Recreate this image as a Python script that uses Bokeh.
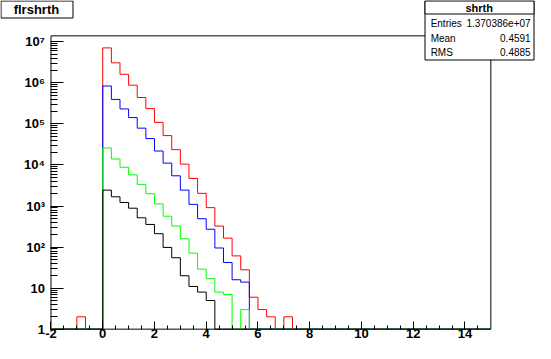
import math
import numpy as np
from bokeh.plotting import figure
from bokeh.models import Label, BoxAnnotation, FixedTicker, Range1d
from bokeh.embed import file_html
from bokeh.resources import INLINE

# ---------------- data ----------------
hist_title = "flrshrth"
stats_title = "shrth"
stats_names = ["Entries", "Mean", "RMS"]
stats_values = ["1.370386e+07", "0.4591", "0.4885"]

bin_low = -2.0
bin_high = 15.0
n_bins = 51

red_counts = ([0, 0, 0, 2, 0, 0]
              + [7130000, 3080000, 1620000, 880000, 440000, 236000, 109000, 52000,
                 23600, 10500, 4700, 2040, 914, 325, 165, 61, 28, 6, 3, 2, 0, 2]
              + [0] * 23)
blue_counts = ([0] * 6
               + [840000, 396000, 232000, 143000, 79000, 44000, 21900, 11100,
                  5450, 2440, 1100, 490, 272, 95, 42, 16, 14]
               + [0] * 28)
green_counts = ([0] * 6
                + [26000, 14000, 8800, 5750, 3370, 2000, 1130, 565,
                   325, 159, 71, 29, 17, 8, 7, 0, 3]
                + [0] * 28)
black_counts = ([0] * 6
                + [2440, 1680, 1220, 885, 517, 356, 212, 98, 55, 20, 11, 8, 5]
                + [0] * 32)

series_colors = ["#ff0000", "#0000ff", "#00ff00", "#000000"]

x_ticks = [-2, 0, 2, 4, 6, 8, 10, 12, 14]
x_tick_labels = ["-2", "0", "2", "4", "6", "8", "10", "12", "14"]
y_ticks = [1, 10, 100, 1000, 10000, 100000, 1000000, 10000000]
y_tick_labels = ["1", "10", "10\u00b2", "10\u00b3", "10\u2074", "10\u2075", "10\u2076", "10\u2077"]
y_bottom = 1
y_top = 1.4e7

# ---------------- layout ----------------
W, H = 535, 343
KX, KY = W / 551.0, H / 359.0      # fit the 551x359 design into the canvas
FONT = "Liberation Sans"


def fx(v):
    return v * KX


def fy(v):
    return v * KY


FR_L, FR_R, FR_T, FR_B = fx(52), fx(505), fy(37), fy(344)

# the whole canvas is the plotting frame; the histogram frame sits inside it
ux = (FR_R - FR_L) / (bin_high - bin_low)
x_start = bin_low - FR_L / ux
x_end = bin_high + (W - FR_R) / ux
ly0, ly1 = math.log10(y_bottom), math.log10(y_top)
uy = (FR_B - FR_T) / (ly1 - ly0)
y_start = 10 ** (ly0 - (H - FR_B) / uy)
y_end = 10 ** (ly1 + FR_T / uy)

p = figure(width=W, height=H, output_backend="svg", toolbar_location=None,
           y_axis_type="log",
           x_range=Range1d(x_start, x_end), y_range=Range1d(y_start, y_end),
           min_border=0, min_border_left=0, min_border_right=0,
           min_border_top=0, min_border_bottom=0)
p.background_fill_color = "white"
p.border_fill_color = "white"
p.outline_line_color = None
p.grid.visible = False

# histogram frame
p.add_layout(BoxAnnotation(left=bin_low, right=bin_high, bottom=y_bottom, top=y_top,
                           fill_alpha=0.0, line_color="black", line_width=1,
                           line_alpha=1.0, level="underlay"))

edges = np.linspace(bin_low, bin_high, n_bins + 1)
for counts, color in zip([red_counts, blue_counts, green_counts, black_counts], series_colors):
    yv = [c if c > 0 else y_bottom for c in counts]
    yv = yv + [yv[-1]]
    p.step(edges, yv, mode="after", line_color=color, line_width=1)

# axes, placed on the histogram frame edges
x_minor = list(np.arange(bin_low, bin_high - 0.25, 0.5))
p.xaxis.ticker = FixedTicker(ticks=x_ticks, minor_ticks=x_minor)
p.xaxis.major_label_overrides = {t: l for t, l in zip(x_ticks, x_tick_labels)}
p.xaxis.fixed_location = y_bottom
y_minor = [m * 10 ** k for k in range(0, 7) for m in range(2, 10)]
p.yaxis.ticker = FixedTicker(ticks=y_ticks, minor_ticks=y_minor)
p.yaxis.major_label_overrides = {t: l for t, l in zip(y_ticks, y_tick_labels)}
p.yaxis.fixed_location = bin_low

for ax in (p.xaxis[0], p.yaxis[0]):
    ax.axis_line_color = None
    ax.major_tick_line_color = "black"
    ax.minor_tick_line_color = "black"
    ax.major_tick_out = 0
    ax.minor_tick_out = 0
    ax.major_label_text_font = FONT
    ax.major_label_text_font_style = "bold"
    ax.major_label_text_font_size = "13px"
    ax.major_label_text_color = "black"
p.xaxis.major_tick_in = 8
p.xaxis.minor_tick_in = 4
p.xaxis.major_label_standoff = 0
p.yaxis.major_tick_in = 13
p.yaxis.minor_tick_in = 7
p.yaxis.major_label_standoff = 6


def box(l, t, r, b):
    p.add_layout(BoxAnnotation(left=round(fx(l)) + 0.5, right=round(fx(r)) + 0.5,
                               top=H - (round(fy(t)) + 0.5), bottom=H - (round(fy(b)) + 0.5),
                               left_units="screen", right_units="screen",
                               top_units="screen", bottom_units="screen",
                               fill_color="white", fill_alpha=1.0,
                               line_color="black", line_width=1, line_alpha=1.0))


def label(x, y, text, align, size, style="normal"):
    p.add_layout(Label(x=fx(x), y=H - fy(y), x_units="screen", y_units="screen",
                       text=text, text_align=align, text_baseline="middle",
                       text_font=FONT, text_font_size=size, text_font_style=style,
                       text_color="black"))


# title box (design coordinates of the 551x359 page)
box(0, 0, 74, 18)
label(37, 9, hist_title, "center", "13px", "bold")

# stats box
box(437, 0, 549, 62)
box(437, 0, 549, 14)
label(493, 7.5, stats_title, "center", "11px", "bold")
row_y = [24, 39.5, 54]
for name, val, ry in zip(stats_names, stats_values, row_y):
    label(443, ry, name, "left", "10px")
    label(546, ry, val, "right", "10px")

open("out.html", "w").write(file_html(p, INLINE))
